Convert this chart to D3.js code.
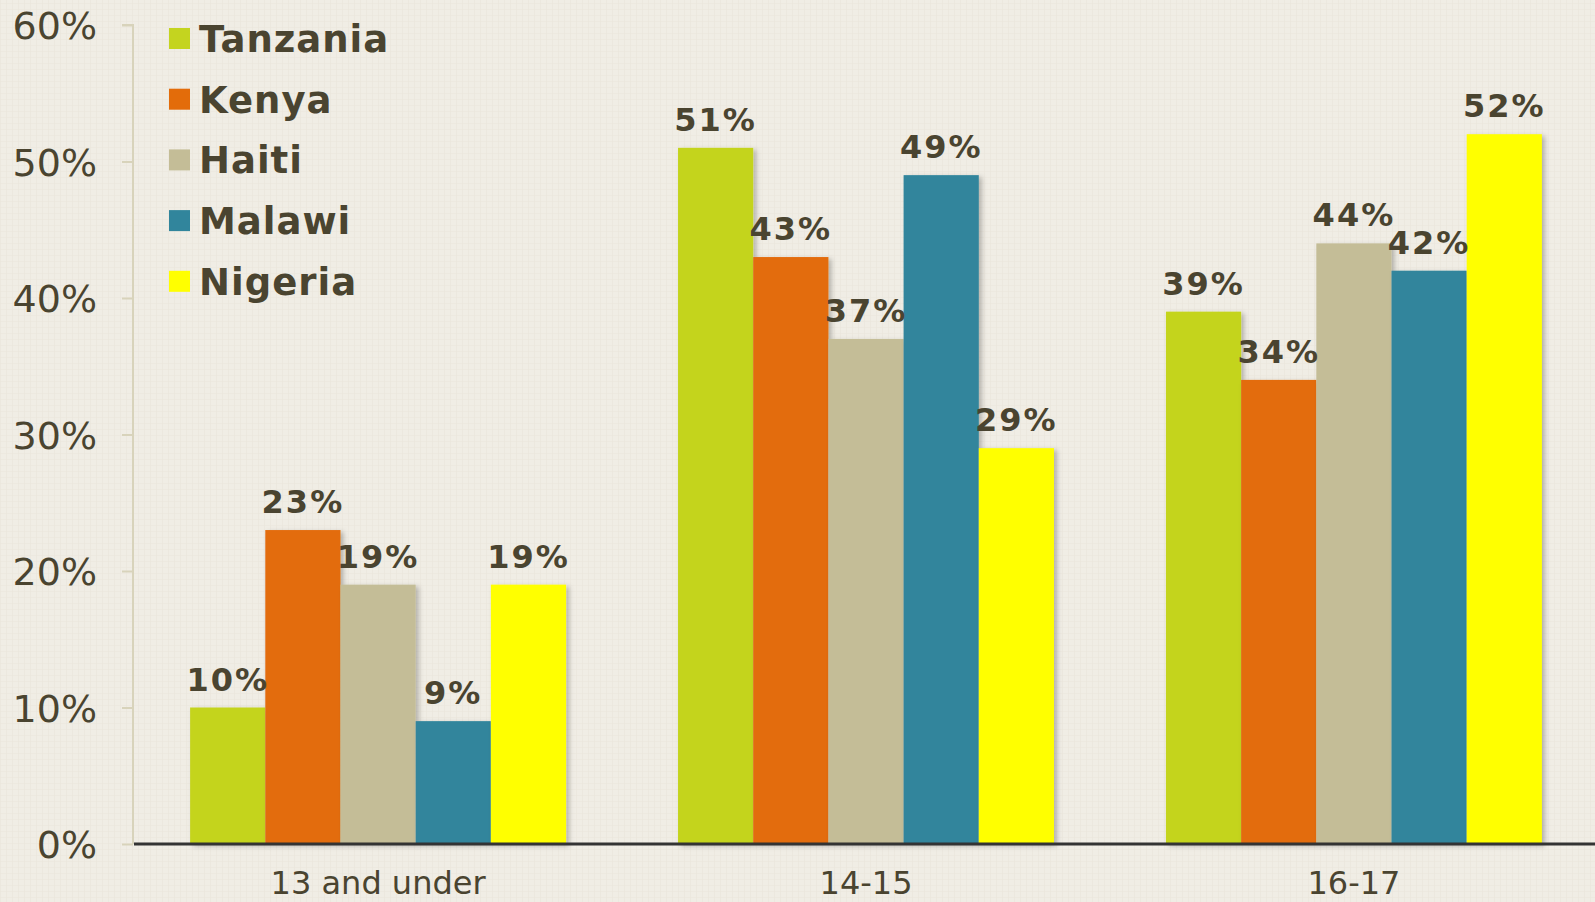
<!DOCTYPE html>
<html><head><meta charset="utf-8">
<script src="https://cdn.jsdelivr.net/npm/d3@7"></script>
<style>
html,body{margin:0;padding:0;background:#f0ede5;}
svg{display:block;}
</style></head>
<body>
<svg id="chart" width="1595" height="902"></svg>
<script>
const categories = ["13 and under", "14-15", "16-17"];
const seriesNames = ["Tanzania", "Kenya", "Haiti", "Malawi", "Nigeria"];
const seriesColors = ["#c4d41f", "#e36c0a", "#c4bd97", "#31859c", "#ffff00"];
const tanzania = [10, 51, 39];
const kenya = [23, 43, 34];
const haiti = [19, 37, 44];
const malawi = [9, 49, 42];
const nigeria = [19, 29, 52];
const yTicks = [0, 10, 20, 30, 40, 50, 60];
const seriesValues = [tanzania, kenya, haiti, malawi, nigeria];

const svg = d3.select("#chart");
const textColor = "#4a4430";
const font = "'DejaVu Sans', Verdana, sans-serif";

// background texture
const defs = svg.append("defs");
const pat = defs.append("pattern").attr("id","tex").attr("width",6).attr("height",6).attr("patternUnits","userSpaceOnUse");
pat.append("rect").attr("width",6).attr("height",6).attr("fill","#f0ede5");
pat.append("rect").attr("x",0).attr("y",0).attr("width",1).attr("height",6).attr("fill","#e9e5db").attr("opacity",0.6);
pat.append("rect").attr("x",0).attr("y",3).attr("width",6).attr("height",1).attr("fill","#e9e5db").attr("opacity",0.5);
svg.append("rect").attr("width",1595).attr("height",902).attr("fill","url(#tex)");

const f = defs.append("filter").attr("id","shadow").attr("x","-10%").attr("y","-10%").attr("width","130%").attr("height","120%");
f.append("feDropShadow").attr("dx",3).attr("dy",2).attr("stdDeviation",2.5).attr("flood-color","#000").attr("flood-opacity",0.25);

const x0 = d3.scaleBand().domain(categories).range([134, 1598]).paddingInner(0.2295).paddingOuter(0.115);
const x1 = d3.scaleBand().domain(seriesNames).range([0, x0.bandwidth()]).padding(0);
const y = d3.scaleLinear().domain([0, 60]).range([844, 25]);

// y axis
const yAxis = d3.axisLeft(y).tickValues(yTicks).tickFormat(d => d + "%").tickSize(11).tickPadding(25);
const ya = svg.append("g").attr("transform","translate(133,0)").call(yAxis);
ya.select(".domain").attr("stroke","#d8d3bb").attr("stroke-width",2).attr("d","M-11,25H0V844");
ya.selectAll(".tick line").attr("stroke","#d8d3bb").attr("stroke-width",2);
ya.selectAll(".tick text").attr("fill",textColor).attr("font-family",font).attr("font-size",38).attr("dy","0.36em");

// bars
const groups = svg.append("g").selectAll("g").data(categories).join("g")
  .attr("transform", d => `translate(${x0(d)},0)`);
groups.selectAll("rect")
  .data((c, ci) => seriesNames.map((s, si) => ({s, si, v: seriesValues[si][ci]})))
  .join("rect")
  .attr("x", d => x1(d.s))
  .attr("y", d => y(d.v))
  .attr("width", x1.bandwidth())
  .attr("height", d => y(0) - y(d.v))
  .attr("fill", d => seriesColors[d.si])
  .attr("filter","url(#shadow)");

// x axis
const xAxis = d3.axisBottom(x0).tickSize(0).tickPadding(27);
const xa = svg.append("g").attr("transform","translate(0,844)").call(xAxis);
xa.select(".domain").attr("stroke","#333").attr("stroke-width",3).attr("d","M134,0H1595");
xa.selectAll(".tick text").attr("fill",textColor).attr("font-family",font).attr("font-size",32).attr("dy","0.71em");

// data labels
groups.selectAll("text.lbl")
  .data((c, ci) => seriesNames.map((s, si) => ({s, si, v: seriesValues[si][ci]})))
  .join("text").attr("class","lbl")
  .attr("x", d => x1(d.s) + x1.bandwidth()/2)
  .attr("y", d => y(d.v) - 17)
  .attr("text-anchor","middle")
  .attr("fill",textColor).attr("font-family",font).attr("font-weight","bold").attr("font-size",32)
  .attr("letter-spacing","2px")
  .text(d => d.v + "%");

// legend
const legend = svg.append("g").attr("transform","translate(169,28)");
const li = legend.selectAll("g").data(seriesNames).join("g")
  .attr("transform",(d,i)=>`translate(0,${i*60.7})`);
li.append("rect").attr("width",21).attr("height",21).attr("fill",(d,i)=>seriesColors[i]);
li.append("text").attr("x",30).attr("y",24).attr("fill",textColor).attr("font-family",font)
  .attr("font-weight","bold").attr("font-size",37).attr("letter-spacing","1px").text(d=>d);
</script>
</body></html>
